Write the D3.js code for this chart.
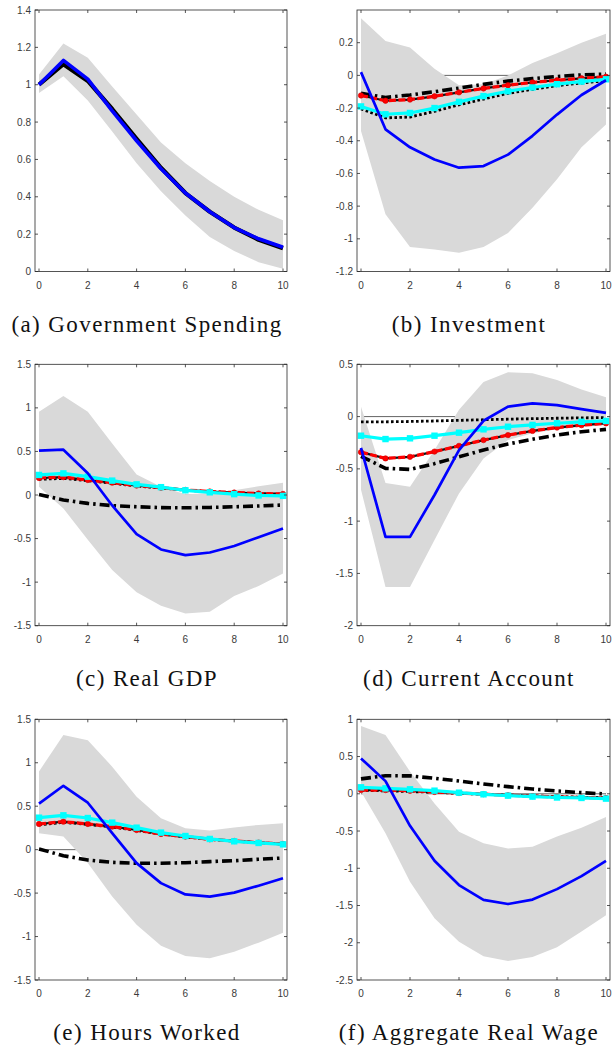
<!DOCTYPE html>
<html>
<head>
<meta charset="utf-8">
<script src="https://cdn.jsdelivr.net/npm/d3@7"></script>
<style>
  html, body { margin: 0; padding: 0; background: #fff; }
  svg { display: block; }
  .tick-label { font-family: "Liberation Sans", Arial, sans-serif; font-size: 10px; fill: #3a3a3a; }
  .panel-title { font-family: "Liberation Serif", "Times New Roman", serif; font-size: 23px; letter-spacing: 1.4px; fill: #111; }
</style>
</head>
<body>
<svg id="chart" width="612" height="1051"></svg>
<script>
// Horizon (quarters after the shock)
const horizons = [0, 1, 2, 3, 4, 5, 6, 7, 8, 9, 10];
const xTicks = [0, 2, 4, 6, 8, 10];

// (a) Government Spending
const govBlue   = [1.00, 1.13, 1.03, 0.86, 0.70, 0.55, 0.42, 0.32, 0.235, 0.175, 0.13];
const govBlack  = [1.00, 1.11, 1.02, 0.87, 0.71, 0.555, 0.42, 0.32, 0.235, 0.17, 0.125];
const govBandHi = [1.055, 1.22, 1.145, 0.99, 0.84, 0.69, 0.58, 0.485, 0.40, 0.33, 0.275];
const govBandLo = [0.955, 1.045, 0.915, 0.75, 0.58, 0.43, 0.30, 0.185, 0.11, 0.05, 0.015];
const govTicks  = [0, 0.2, 0.4, 0.6, 0.8, 1, 1.2, 1.4];

// (b) Investment
const invBlue    = [0.02, -0.33, -0.44, -0.515, -0.565, -0.555, -0.485, -0.37, -0.24, -0.12, -0.03];
const invBandHi  = [0.35, 0.21, 0.17, 0.04, -0.06, -0.055, 0.0, 0.075, 0.135, 0.2, 0.255];
const invBandLo  = [-0.34, -0.85, -1.05, -1.065, -1.085, -1.05, -0.965, -0.81, -0.635, -0.44, -0.30];
const invDashDot = [-0.11, -0.135, -0.12, -0.10, -0.078, -0.055, -0.035, -0.02, -0.007, 0.003, 0.008];
const invDotted  = [-0.205, -0.26, -0.255, -0.22, -0.18, -0.145, -0.11, -0.085, -0.063, -0.047, -0.033];
const invRed     = [-0.123, -0.155, -0.148, -0.128, -0.104, -0.08, -0.06, -0.043, -0.03, -0.018, -0.008];
const invCyan    = [-0.19, -0.238, -0.23, -0.2, -0.162, -0.127, -0.097, -0.074, -0.054, -0.038, -0.024];
const invTicks   = [-1.2, -1, -0.8, -0.6, -0.4, -0.2, 0, 0.2];

// (c) Real GDP
const gdpBlue    = [0.51, 0.52, 0.25, -0.12, -0.45, -0.625, -0.69, -0.66, -0.585, -0.485, -0.385];
const gdpBandHi  = [0.955, 1.135, 0.955, 0.59, 0.235, 0.095, 0.01, 0.02, 0.055, 0.10, 0.14];
const gdpBandLo  = [0.095, -0.155, -0.515, -0.86, -1.115, -1.27, -1.36, -1.34, -1.16, -1.045, -0.90];
const gdpDashDot = [0.005, -0.057, -0.096, -0.122, -0.135, -0.145, -0.147, -0.143, -0.135, -0.126, -0.115];
const gdpDotted  = [0.18, 0.19, 0.165, 0.135, 0.103, 0.08, 0.055, 0.037, 0.025, 0.013, 0.008];
const gdpRed     = [0.195, 0.205, 0.172, 0.142, 0.108, 0.084, 0.058, 0.04, 0.028, 0.017, 0.012];
const gdpCyan    = [0.23, 0.248, 0.21, 0.165, 0.122, 0.09, 0.054, 0.031, 0.01, -0.005, -0.01];
const gdpTicks   = [-1.5, -1, -0.5, 0, 0.5, 1, 1.5];

// (d) Current Account
const caBlue    = [-0.30, -1.15, -1.15, -0.75, -0.32, -0.04, 0.095, 0.127, 0.11, 0.072, 0.036];
const caBandHi  = [0.095, -0.635, -0.67, -0.32, 0.065, 0.33, 0.425, 0.415, 0.35, 0.26, 0.185];
const caBandLo  = [-0.70, -1.63, -1.63, -1.18, -0.735, -0.40, -0.225, -0.16, -0.12, -0.10, -0.08];
const caDashDot = [-0.38, -0.495, -0.505, -0.45, -0.385, -0.32, -0.262, -0.217, -0.176, -0.145, -0.122];
const caDotted  = [-0.05, -0.05, -0.047, -0.042, -0.036, -0.03, -0.025, -0.02, -0.016, -0.012, -0.01];
const caRed     = [-0.34, -0.40, -0.385, -0.335, -0.28, -0.225, -0.177, -0.137, -0.105, -0.082, -0.065];
const caCyan    = [-0.183, -0.215, -0.208, -0.183, -0.154, -0.122, -0.097, -0.08, -0.064, -0.05, -0.042];
const caTicks   = [-2, -1.5, -1, -0.5, 0, 0.5];

// (e) Hours Worked
const hrsBlue    = [0.53, 0.735, 0.54, 0.19, -0.155, -0.385, -0.515, -0.54, -0.495, -0.415, -0.33];
const hrsBandHi  = [0.90, 1.32, 1.26, 0.955, 0.61, 0.36, 0.245, 0.22, 0.255, 0.285, 0.305];
const hrsBandLo  = [0.19, 0.15, -0.155, -0.54, -0.865, -1.105, -1.225, -1.25, -1.175, -1.07, -0.955];
const hrsDashDot = [0.008, -0.07, -0.12, -0.146, -0.157, -0.157, -0.15, -0.138, -0.127, -0.111, -0.096];
const hrsDotted  = [0.285, 0.315, 0.29, 0.26, 0.222, 0.178, 0.148, 0.118, 0.098, 0.08, 0.064];
const hrsRed     = [0.295, 0.322, 0.296, 0.265, 0.226, 0.18, 0.15, 0.12, 0.1, 0.081, 0.066];
const hrsCyan    = [0.368, 0.395, 0.364, 0.311, 0.253, 0.196, 0.157, 0.123, 0.096, 0.077, 0.061];
const hrsTicks   = [-1.5, -1, -0.5, 0, 0.5, 1, 1.5];

// (f) Aggregate Real Wage
const wageBlue    = [0.475, 0.17, -0.43, -0.90, -1.225, -1.425, -1.48, -1.42, -1.28, -1.105, -0.90];
const wageBandHi  = [0.91, 0.79, 0.30, -0.13, -0.51, -0.665, -0.735, -0.71, -0.575, -0.455, -0.31];
const wageBandLo  = [0.03, -0.53, -1.18, -1.67, -1.985, -2.18, -2.245, -2.19, -2.06, -1.85, -1.63];
const wageDashDot = [0.20, 0.243, 0.24, 0.208, 0.172, 0.132, 0.096, 0.064, 0.038, 0.015, -0.003];
const wageDotted  = [0.045, 0.04, 0.03, 0.02, 0.005, -0.005, -0.017, -0.028, -0.038, -0.046, -0.052];
const wageRed     = [0.05, 0.05, 0.04, 0.025, 0.01, -0.005, -0.02, -0.032, -0.043, -0.05, -0.057];
const wageCyan    = [0.087, 0.073, 0.06, 0.042, 0.015, -0.007, -0.025, -0.038, -0.05, -0.056, -0.065];
const wageTicks   = [-2.5, -2, -1.5, -1, -0.5, 0, 0.5, 1];

// Panel definitions (frame geometry lives in the layout below)
const panels = [
  { title: "(a) Government Spending", col: 0, row: 0, yDomain: [0, 1.4], yTicks: govTicks,
    band: [govBandLo, govBandHi], black: govBlack, blue: govBlue },
  { title: "(b) Investment", col: 1, row: 0, yDomain: [-1.2, 0.4], yTicks: invTicks,
    band: [invBandLo, invBandHi], dashDot: invDashDot, dotted: invDotted, red: invRed, cyan: invCyan, blue: invBlue },
  { title: "(c) Real GDP", col: 0, row: 1, yDomain: [-1.5, 1.5], yTicks: gdpTicks,
    band: [gdpBandLo, gdpBandHi], dashDot: gdpDashDot, dotted: gdpDotted, red: gdpRed, cyan: gdpCyan, blue: gdpBlue },
  { title: "(d) Current Account", col: 1, row: 1, yDomain: [-2, 0.5], yTicks: caTicks,
    band: [caBandLo, caBandHi], dashDot: caDashDot, dotted: caDotted, red: caRed, cyan: caCyan, blue: caBlue },
  { title: "(e) Hours Worked", col: 0, row: 2, yDomain: [-1.5, 1.5], yTicks: hrsTicks,
    band: [hrsBandLo, hrsBandHi], dashDot: hrsDashDot, dotted: hrsDotted, red: hrsRed, cyan: hrsCyan, blue: hrsBlue },
  { title: "(f) Aggregate Real Wage", col: 1, row: 2, yDomain: [-2.5, 1], yTicks: wageTicks,
    band: [wageBandLo, wageBandHi], dashDot: wageDashDot, dotted: wageDotted, red: wageRed, cyan: wageCyan, blue: wageBlue }
];

// Layout
const colFrames = [ { left: 35, right: 287, pad: 4, titleX: 147 },
                    { left: 357, right: 610, pad: 4, titleX: 469 } ];
const rowFrames = [ { top: 10, bottom: 271.5 },
                    { top: 364.3, bottom: 625.7 },
                    { top: 719.3, bottom: 980 } ];

const svg = d3.select("#chart");
const fmt = v => String(+v.toFixed(2));
const tickLen = 3;

panels.forEach(p => {
  const cf = colFrames[p.col], rf = rowFrames[p.row];
  const x = d3.scaleLinear().domain([0, 10]).range([cf.left + cf.pad, cf.right - cf.pad]);
  const y = d3.scaleLinear().domain(p.yDomain).range([rf.bottom, rf.top]);
  const g = svg.append("g");

  const clipId = "clip" + p.col + p.row;
  svg.append("clipPath").attr("id", clipId).append("rect")
    .attr("x", cf.left).attr("y", rf.top).attr("width", cf.right - cf.left).attr("height", rf.bottom - rf.top);
  const plot = g.append("g").attr("clip-path", `url(#${clipId})`);

  // zero reference line (sits beneath the band)
  if (p.yDomain[0] < 0) {
    plot.append("line")
      .attr("x1", x(0)).attr("x2", x(10)).attr("y1", y(0)).attr("y2", y(0))
      .attr("stroke", "#222").attr("stroke-width", 0.7);
  }

  // confidence band
  const area = d3.area().x(d => x(d.h)).y0(d => y(d.lo)).y1(d => y(d.hi));
  plot.append("path")
    .datum(horizons.map((h, i) => ({ h, lo: p.band[0][i], hi: p.band[1][i] })))
    .attr("d", area).attr("fill", "#d9d9d9").attr("stroke", "none");

  const line = d3.line().x((d, i) => x(horizons[i])).y(d => y(d));
  const draw = (vals, stroke, width, dash) => {
    const path = plot.append("path").datum(vals).attr("d", line)
      .attr("fill", "none").attr("stroke", stroke).attr("stroke-width", width)
      .attr("stroke-linejoin", "round");
    if (dash) path.attr("stroke-dasharray", dash);
    return path;
  };

  if (p.black) draw(p.black, "#000", 4.2);
  if (p.dashDot) draw(p.dashDot, "#000", 3.6, "10,4,2.5,4");
  if (p.dotted) draw(p.dotted, "#000", 2.8, "2.6,2.4");
  if (p.red) {
    draw(p.red, "#111", 2.2);
    draw(p.red, "#ff0000", 3.2, "7,2.5");
    plot.selectAll(null).data(p.red).enter().append("circle")
      .attr("cx", (d, i) => x(horizons[i])).attr("cy", d => y(d)).attr("r", 2.7)
      .attr("fill", "#ff0000").attr("stroke", "#d00000").attr("stroke-width", 0.6);
  }
  if (p.cyan) {
    draw(p.cyan, "#00ffff", 3.2);
    plot.selectAll(null).data(p.cyan).enter().append("rect")
      .attr("x", (d, i) => x(horizons[i]) - 3.2).attr("y", d => y(d) - 3.2)
      .attr("width", 6.4).attr("height", 6.4).attr("fill", "#00ffff");
  }
  draw(p.blue, "#0000ff", p.black ? 3.6 : 2.7);

  // axes box with inward ticks on all four sides
  const axisColor = "#2a2a2a";
  g.append("rect")
    .attr("x", cf.left).attr("y", rf.top).attr("width", cf.right - cf.left).attr("height", rf.bottom - rf.top)
    .attr("fill", "none").attr("stroke", axisColor).attr("stroke-width", 0.8);

  xTicks.forEach(t => {
    const xx = x(t);
    g.append("line").attr("x1", xx).attr("x2", xx).attr("y1", rf.bottom).attr("y2", rf.bottom - tickLen)
      .attr("stroke", axisColor).attr("stroke-width", 0.8);
    g.append("line").attr("x1", xx).attr("x2", xx).attr("y1", rf.top).attr("y2", rf.top + tickLen)
      .attr("stroke", axisColor).attr("stroke-width", 0.8);
    g.append("text").attr("class", "tick-label").attr("x", xx).attr("y", rf.bottom + 17)
      .attr("text-anchor", "middle").text(fmt(t));
  });
  p.yTicks.forEach(t => {
    const yy = y(t);
    g.append("line").attr("x1", cf.left).attr("x2", cf.left + tickLen).attr("y1", yy).attr("y2", yy)
      .attr("stroke", axisColor).attr("stroke-width", 0.8);
    g.append("line").attr("x1", cf.right).attr("x2", cf.right - tickLen).attr("y1", yy).attr("y2", yy)
      .attr("stroke", axisColor).attr("stroke-width", 0.8);
    g.append("text").attr("class", "tick-label").attr("x", cf.left - 4).attr("y", yy + 3.5)
      .attr("text-anchor", "end").text(fmt(t));
  });

  // sub-figure caption
  g.append("text").attr("class", "panel-title")
    .attr("x", cf.titleX).attr("y", rf.bottom + 60)
    .attr("text-anchor", "middle").text(p.title);
});
</script>
</body>
</html>
